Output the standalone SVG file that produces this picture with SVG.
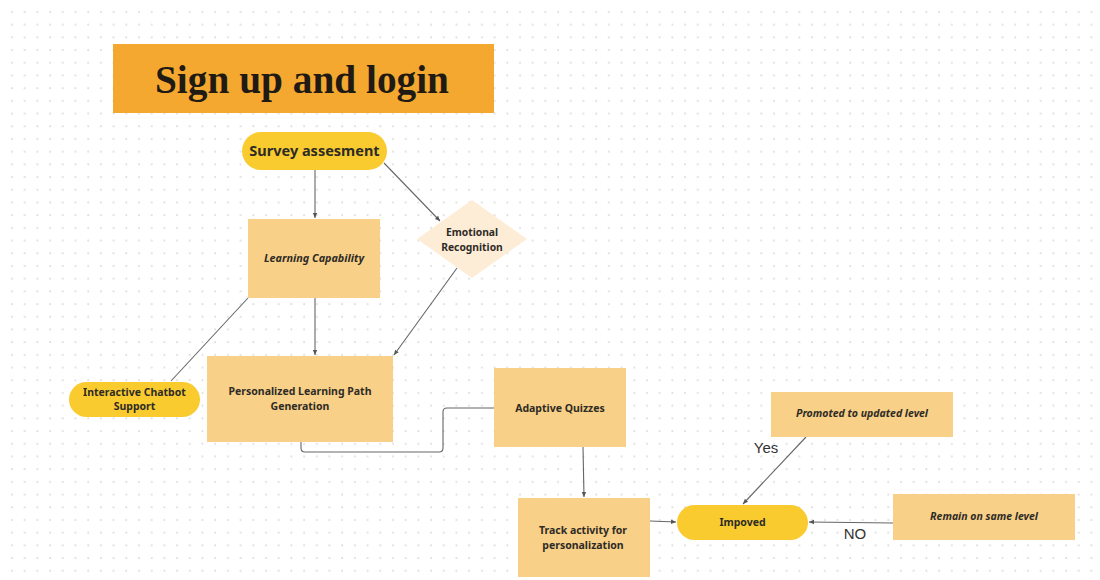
<svg xmlns="http://www.w3.org/2000/svg" width="1100" height="580" viewBox="0 0 1100 580">
<defs>
<pattern id="dots" x="6" y="6" width="12.7" height="12.7" patternUnits="userSpaceOnUse">
<circle cx="6" cy="6" r="1" fill="#dedede"/>
</pattern>
<marker id="arr" markerWidth="6" markerHeight="6" refX="5" refY="3" orient="auto" markerUnits="userSpaceOnUse">
<path d="M0,0.8 L5,3 L0,5.2 Z" fill="#555"/>
</marker>
<style>
.box{fill:#F8D087}
.pill{fill:#F9CB2E}
.t{font-family:"Noto Sans","Open Sans",sans-serif;font-weight:700;fill:#2e2b26;text-anchor:middle}
.i{font-style:italic}
.c{fill:none;stroke:#666;stroke-width:1.1}
.lbl{font-family:"Liberation Sans",Arial,sans-serif;fill:#333;font-size:15px;text-anchor:middle}
</style>
</defs>
<rect width="1100" height="580" fill="#fff"/>
<rect x="8" y="8" width="1092" height="572" fill="url(#dots)"/>

<g id="title">
<rect x="113" y="44" width="381" height="69" fill="#F4A82F"/>
<text x="302" y="93" font-family="'Liberation Serif',serif" font-weight="700" font-size="39" fill="#1f1a14" text-anchor="middle" textLength="294" lengthAdjust="spacingAndGlyphs">Sign up and login</text>
</g>

<g id="connectors">
<line class="c" x1="315" y1="170" x2="315" y2="218" marker-end="url(#arr)"/>
<line class="c" x1="384" y1="163" x2="440" y2="221" marker-end="url(#arr)"/>
<line class="c" x1="315" y1="298" x2="315" y2="355" marker-end="url(#arr)"/>
<line class="c" x1="457" y1="268" x2="394" y2="355" marker-end="url(#arr)"/>
<line class="c" x1="248" y1="298" x2="171" y2="381"/>
<path class="c" d="M301,442 V448 Q301,452 305,452 H439 Q443,452 443,448 V412 Q443,408 447,408 H494"/>
<line class="c" x1="583" y1="447" x2="584" y2="497" marker-end="url(#arr)"/>
<line class="c" x1="650" y1="521" x2="676" y2="522" marker-end="url(#arr)"/>
<line class="c" x1="806" y1="437" x2="743" y2="504" marker-end="url(#arr)"/>
<line class="c" x1="893" y1="523" x2="809" y2="522" marker-end="url(#arr)"/>
<text class="lbl" x="766" y="453">Yes</text>
<text class="lbl" x="855" y="539">NO</text>
</g>

<g id="survey">
<rect class="pill" x="242" y="132" width="145" height="38" rx="19"/>
<text class="t" x="314.500" y="156" font-size="14.5">Survey assesment</text>
</g>

<g id="learning-capability">
<rect class="box" x="248" y="219" width="132" height="79"/>
<text class="t i" x="314" y="262" font-size="10.8">Learning Capability</text>
</g>

<g id="emotional-recognition">
<polygon points="472,200 527,239 472,278 417,239" fill="#FDEDD6"/>
<text class="t" x="472" y="236" font-size="10.3">Emotional</text>
<text class="t" x="472" y="251" font-size="10.3">Recognition</text>
</g>

<g id="chatbot">
<rect class="pill" x="69" y="382" width="131" height="35" rx="17.5"/>
<text class="t" x="134.500" y="396" font-size="10.5">Interactive Chatbot</text>
<text class="t" x="134.500" y="410" font-size="10.5">Support</text>
</g>

<g id="personalized-path">
<rect class="box" x="207" y="356" width="186" height="86"/>
<text class="t" x="300" y="395" font-size="10.5">Personalized Learning Path</text>
<text class="t" x="300" y="410" font-size="10.5">Generation</text>
</g>

<g id="adaptive-quizzes">
<rect class="box" x="494" y="368" width="132" height="79"/>
<text class="t" x="560" y="412" font-size="10.5">Adaptive Quizzes</text>
</g>

<g id="track-activity">
<rect class="box" x="518" y="498" width="132" height="79"/>
<text class="t" x="583" y="534" font-size="10.5">Track activity for</text>
<text class="t" x="583" y="549" font-size="10.5">personalization</text>
</g>

<g id="impoved">
<rect class="pill" x="677" y="505" width="131" height="35" rx="17.5"/>
<text class="t" x="742.500" y="526" font-size="10.5">Impoved</text>
</g>

<g id="promoted">
<rect class="box" x="771" y="392" width="182" height="45"/>
<text class="t i" x="862" y="417" font-size="10.5">Promoted to updated level</text>
</g>

<g id="remain">
<rect class="box" x="893" y="494" width="182" height="46"/>
<text class="t i" x="984" y="520" font-size="10.5">Remain on same level</text>
</g>
</svg>
